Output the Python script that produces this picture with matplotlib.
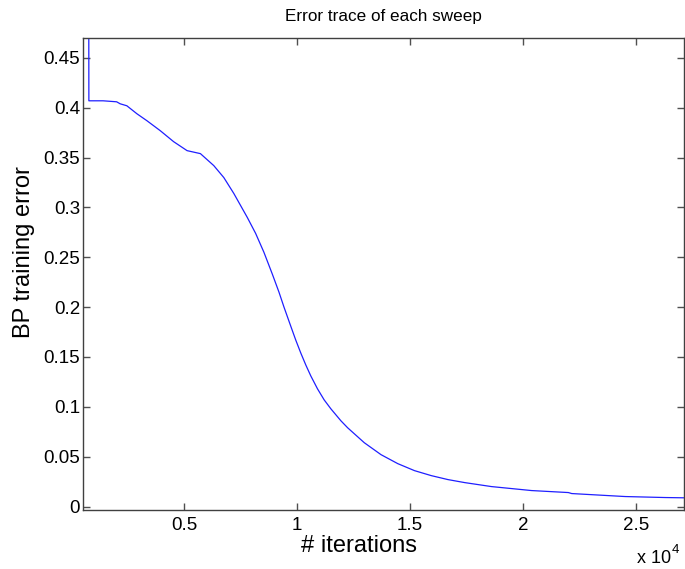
import matplotlib
matplotlib.use("Agg")
import matplotlib.pyplot as plt

# BP training error trace (iterations, error)
iterations = [760, 770, 1400, 2000, 2156, 2453, 2898, 3342, 3933, 4524, 5120,
              5711, 6302, 6747, 7191, 7787, 8156, 8524, 8898, 9191, 9413, 9711,
              9933, 10156, 10378, 10600, 10898, 11191, 11489, 11933, 12231,
              12969, 13711, 14453, 15191, 15933, 16676, 17413, 18600, 20378,
              22009, 22156, 24524, 26302, 27222]
error = [0.60, 0.407, 0.407, 0.406, 0.404, 0.402, 0.394, 0.387, 0.377, 0.366,
         0.357, 0.354, 0.342, 0.330, 0.314, 0.290, 0.274, 0.255, 0.233, 0.215,
         0.200, 0.181, 0.167, 0.154, 0.142, 0.131, 0.118, 0.107, 0.098, 0.086,
         0.079, 0.064, 0.052, 0.043, 0.036, 0.031, 0.027, 0.024, 0.020, 0.016,
         0.014, 0.013, 0.010, 0.009, 0.0087]

xticks = [5000, 10000, 15000, 20000, 25000]
xtick_labels = ["0.5", "1", "1.5", "2", "2.5"]
yticks = [0, 0.05, 0.1, 0.15, 0.2, 0.25, 0.3, 0.35, 0.4, 0.45]
ytick_labels = ["0", "0.05", "0.1", "0.15", "0.2", "0.25", "0.3", "0.35", "0.4", "0.45"]

plt.rcParams["font.family"] = ["Liberation Sans", "DejaVu Sans"]

W, H = 685, 569
fig = plt.figure(figsize=(W / 100, H / 100), dpi=100)
ax = fig.add_axes([83 / W, 1 - 510 / H, (684 - 83) / W, (510 - 38) / H])

ax.plot(iterations, error, color="#1f1fff", lw=0.9)
ax.set_xlim(510, 27130)
ax.set_ylim(-0.0035, 0.47)

ax.set_xticks(xticks)
ax.set_xticklabels(xtick_labels)
ax.set_yticks(yticks)
ax.set_yticklabels(ytick_labels)
ax.tick_params(direction="in", top=True, right=True, length=5, width=1,
               color="#505050", labelsize=13.5)
ax.tick_params(axis="x", pad=5)
ax.tick_params(axis="y", pad=2)
for s in ax.spines.values():
    s.set_color("#404040")
    s.set_linewidth(1.0)

ax.set_title("Error trace of each sweep", fontsize=12.3, pad=12)
ax.set_xlabel("# iterations", fontsize=17)
ax.xaxis.label.set_va("center")
ax.xaxis.set_label_coords((359 - 83) / 601, -(546 - 510) / 472)
ax.set_ylabel("BP training error", fontsize=17)
ax.yaxis.label.set_va("center")
ax.yaxis.set_label_coords(-(83 - 24) / 601, (510 - 252) / 472)

fig.text(671 / W, 1 - 563 / H, "x 10", fontsize=13, ha="right", va="baseline")
fig.text(672 / W, 1 - 553 / H, "4", fontsize=9.5, ha="left", va="baseline")

fig.savefig("out.png", dpi=100)
